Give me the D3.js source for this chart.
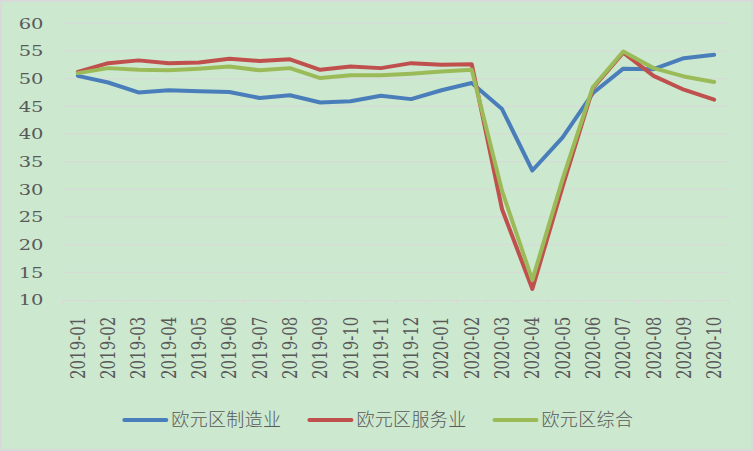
<!DOCTYPE html>
<html>
<head>
<meta charset="utf-8">
<script src="https://cdn.jsdelivr.net/npm/d3@7"></script>
<style>
  html, body { margin: 0; padding: 0; background: #fff; }
  svg { display: block; }
</style>
</head>
<body>
<script>
const months = ["2019-01", "2019-02", "2019-03", "2019-04", "2019-05", "2019-06", "2019-07", "2019-08", "2019-09", "2019-10", "2019-11", "2019-12",
  "2020-01", "2020-02", "2020-03", "2020-04", "2020-05", "2020-06", "2020-07", "2020-08", "2020-09", "2020-10"];
const manufacturing = [50.5, 49.3, 47.5, 47.9, 47.7, 47.6, 46.5, 47.0, 45.7, 45.9, 46.9, 46.3, 47.9, 49.2, 44.5, 33.4, 39.4, 47.4, 51.8, 51.7, 53.7, 54.3];
const services = [51.2, 52.8, 53.3, 52.8, 52.9, 53.6, 53.2, 53.5, 51.6, 52.2, 51.9, 52.8, 52.5, 52.6, 26.4, 12.0, 30.5, 48.3, 54.7, 50.5, 48.0, 46.2];
const composite = [51.0, 51.9, 51.6, 51.5, 51.8, 52.2, 51.5, 51.9, 50.1, 50.6, 50.6, 50.9, 51.3, 51.6, 29.7, 13.6, 31.9, 48.5, 54.9, 51.9, 50.4, 49.4];
const seriesNames = ["欧元区制造业", "欧元区服务业", "欧元区综合"];
const seriesColors = ["#4a7ebb", "#c0504d", "#9bbb59"];
const yTicks = [10, 15, 20, 25, 30, 35, 40, 45, 50, 55, 60];

const W = 753, H = 451;
const stretch = 1.3; // text in the picture is drawn wider than tall
const svg = d3.select("body").append("svg").attr("width", W).attr("height", H);

svg.append("rect").attr("x", 1).attr("y", 1).attr("width", W - 2).attr("height", H - 2)
  .attr("fill", "#cce8cf").attr("stroke", "#d9d9d9").attr("stroke-width", 2);

const x = d3.scaleBand().domain(months).range([62.7, 729.3]);
const y = d3.scaleLinear().domain([10, 60]).range([300, 23.3]);
const cx = m => x(m) + x.bandwidth() / 2;

// gridlines
svg.append("g").selectAll("line").data(yTicks.filter(t => t > 10)).join("line")
  .attr("x1", 62.7).attr("x2", 729.3)
  .attr("y1", d => y(d)).attr("y2", d => y(d))
  .attr("stroke", "#d9d9d9").attr("stroke-width", 1);

// y labels
svg.append("g").selectAll("text").data(yTicks).join("text")
  .attr("transform", d => `translate(43.5,${y(d)}) scale(${stretch},1)`)
  .attr("text-anchor", "end").attr("dy", "0.36em")
  .attr("font-family", "DejaVu Serif").attr("font-size", 15).attr("fill", "#595959")
  .text(d => d);

// x axis
const xAxis = d3.axisBottom(x).tickSize(5).tickFormat("");
const gx = svg.append("g").attr("transform", `translate(0,${y(10)})`).call(xAxis);
gx.select(".domain").attr("stroke", "#d9d9d9");
gx.selectAll(".tick line").attr("stroke", "#d9d9d9")
  .attr("transform", `translate(${-x.bandwidth() / 2},0)`);
gx.append("line").attr("x1", 729.3).attr("x2", 729.3).attr("y1", 0).attr("y2", 5).attr("stroke", "#d9d9d9");
gx.select(".domain").attr("d", "M62.7,0.5H729.3");

svg.append("g").selectAll("text").data(months).join("text")
  .attr("transform", d => `translate(${cx(d)},316.7) scale(${stretch},1) rotate(-90)`)
  .attr("text-anchor", "end").attr("dy", "0.36em")
  .attr("font-family", "DejaVu Serif").attr("font-size", 15).attr("fill", "#595959")
  .text(d => d);

// lines
const allSeries = [manufacturing, services, composite];
const line = d3.line().x((d, i) => cx(months[i])).y(d => y(d));
svg.append("g").selectAll("path").data(allSeries).join("path")
  .attr("d", d => line(d))
  .attr("fill", "none")
  .attr("stroke", (d, i) => seriesColors[i])
  .attr("stroke-width", 4)
  .attr("stroke-linejoin", "round")
  .attr("stroke-linecap", "round");

// legend
const legend = svg.append("g");
let lx = 124.3;
seriesNames.forEach((name, i) => {
  legend.append("line").attr("x1", lx).attr("x2", lx + 42).attr("y1", 420).attr("y2", 420)
    .attr("stroke", seriesColors[i]).attr("stroke-width", 4).attr("stroke-linecap", "round");
  const t = legend.append("text").attr("x", lx + 47).attr("y", 420).attr("dy", "0.36em")
    .attr("font-family", "Noto Sans CJK SC").attr("font-weight", 300)
    .attr("font-size", 18).attr("letter-spacing", 0.35).attr("fill", "#595959").text(name);
  lx += 47 + t.node().getComputedTextLength() + 28;
});
</script>
</body>
</html>
